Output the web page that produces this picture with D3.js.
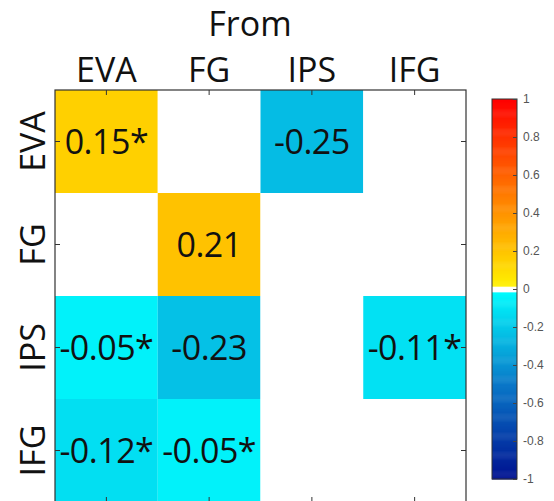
<!DOCTYPE html>
<html>
<head>
<meta charset="utf-8">
<script src="https://cdn.jsdelivr.net/npm/d3@7"></script>
<style>
  body { margin: 0; background: #fff; }
  svg { display: block; }
</style>
</head>
<body>
<div id="chart"></div>
<script>
// regions (columns = "From", rows = "To")
var fromRegions = ["EVA", "FG", "IPS", "IFG"];
var toRegions = ["EVA", "FG", "IPS", "IFG"];

// connection strengths, null = no connection (white)
var values = [
  [0.15, null, -0.25, null],
  [null, 0.21, null, null],
  [-0.05, -0.23, null, -0.11],
  [-0.12, -0.05, null, null]
];
// significance stars
var significant = [
  [true, false, false, false],
  [false, false, false, false],
  [true, false, false, true],
  [true, true, false, false]
];
var colorbarTicks = [-1, -0.8, -0.6, -0.4, -0.2, 0, 0.2, 0.4, 0.6, 0.8, 1];

var W = 554, H = 501;
var plot = {left: 55, top: 90, right: 466, bottom: 502};

var svg = d3.select("#chart").append("svg")
  .attr("width", W)
  .attr("height", H);

// colour map: blue -> cyan for negatives, yellow -> red for positives, white near 0
var negColor = d3.scaleLinear()
  .domain([-1, -0.5, 0])
  .range(["#001090", "#0a78c8", "#00ffff"]);
function color(v) {
  if (v === null || Math.abs(v) < 0.013) return "#ffffff";
  if (v > 0) return d3.rgb(255, 245 * (1 - v), 0).toString();
  return negColor(v);
}

var x = d3.scaleBand().domain(fromRegions).range([plot.left, plot.right]);
var y = d3.scaleBand().domain(toRegions).range([plot.top, plot.bottom]);

// flatten cells
var cells = [];
toRegions.forEach(function(to, i) {
  fromRegions.forEach(function(from, j) {
    cells.push({to: to, from: from, v: values[i][j], sig: significant[i][j]});
  });
});

svg.append("g").selectAll("rect")
  .data(cells)
  .enter().append("rect")
  .attr("x", function(d) { return x(d.from); })
  .attr("y", function(d) { return y(d.to); })
  .attr("width", x.bandwidth())
  .attr("height", y.bandwidth())
  .attr("fill", function(d) { return color(d.v); });

svg.append("g").selectAll("text")
  .data(cells.filter(function(d) { return d.v !== null; }))
  .enter().append("text")
  .attr("x", function(d) { return x(d.from) + x.bandwidth() / 2; })
  .attr("y", function(d) { return y(d.to) + y.bandwidth() / 2; })
  .attr("dy", "0.36em")
  .attr("text-anchor", "middle")
  .style("font-family", "'Open Sans', sans-serif")
  .style("font-size", "34px")
  .style("letter-spacing", "-0.5px")
  .style("fill", "#111")
  .text(function(d) { return d.v.toFixed(2) + (d.sig ? "*" : ""); });

// axes: inward ticks, labels on top and left
var labelFont = function(sel) {
  sel.selectAll("text")
    .style("font-family", "'Open Sans', sans-serif")
    .style("font-size", "34px")
    .style("fill", "#111");
  sel.selectAll("path, line").attr("stroke", "#333");
};

svg.append("g")
  .attr("transform", "translate(0," + plot.top + ")")
  .call(d3.axisTop(x).tickSize(-5).tickSizeOuter(0).tickPadding(8))
  .call(labelFont)
  .call(function(g) { g.select(".domain").remove(); });

svg.append("g")
  .attr("transform", "translate(0," + plot.bottom + ")")
  .call(d3.axisBottom(x).tickSize(-5).tickSizeOuter(0).tickFormat(""))
  .call(labelFont)
  .call(function(g) { g.select(".domain").remove(); });

svg.append("g")
  .attr("transform", "translate(" + plot.left + ",0)")
  .call(d3.axisLeft(y).tickSize(-5).tickSizeOuter(0).tickPadding(10))
  .call(labelFont)
  .call(function(g) {
    g.select(".domain").remove();
    g.selectAll("text")
      .attr("x", 0)
      .attr("y", -10)
      .attr("dy", 0)
      .attr("text-anchor", "middle")
      .attr("transform", "rotate(-90)");
  });

svg.append("g")
  .attr("transform", "translate(" + plot.right + ",0)")
  .call(d3.axisRight(y).tickSize(-5).tickSizeOuter(0).tickFormat(""))
  .call(labelFont)
  .call(function(g) { g.select(".domain").remove(); });

// plot frame
svg.append("rect")
  .attr("x", plot.left)
  .attr("y", plot.top)
  .attr("width", plot.right - plot.left)
  .attr("height", plot.bottom - plot.top)
  .attr("fill", "none")
  .attr("stroke", "#333")
  .attr("stroke-width", 1.2);

svg.append("text")
  .attr("x", 250)
  .attr("y", 36)
  .attr("text-anchor", "middle")
  .style("font-family", "'Open Sans', sans-serif")
  .style("font-size", "34px")
  .style("fill", "#111")
  .text("From");

// colorbar
var cb = {x: 492, w: 25, top: 99, bottom: 479};
var cy = d3.scaleLinear().domain([-1, 1]).range([cb.bottom, cb.top]);
var steps = d3.range(-1, 1, 0.005);
svg.append("g").selectAll("rect")
  .data(steps)
  .enter().append("rect")
  .attr("x", cb.x)
  .attr("y", function(d) { return cy(d + 0.005); })
  .attr("width", cb.w)
  .attr("height", function(d) { return cy(d) - cy(d + 0.005) + 0.5; })
  .attr("fill", function(d) { return color(d + 0.0025); });

svg.append("rect")
  .attr("x", cb.x)
  .attr("y", cb.top)
  .attr("width", cb.w)
  .attr("height", cb.bottom - cb.top)
  .attr("fill", "none")
  .attr("stroke", "#333")
  .attr("stroke-width", 1);

svg.append("g")
  .attr("transform", "translate(" + (cb.x + cb.w) + ",0)")
  .call(d3.axisRight(cy).tickValues(colorbarTicks).tickSize(-4).tickSizeOuter(0).tickPadding(6)
    .tickFormat(function(d) { return String(+d.toFixed(1)); }))
  .call(function(g) {
    g.select(".domain").remove();
    g.selectAll("line").attr("stroke", "#444");
    g.selectAll("text")
      .style("font-family", "'Liberation Sans', Arial, sans-serif")
      .style("font-size", "12px")
      .style("fill", "#555");
  });
</script>
</body>
</html>
